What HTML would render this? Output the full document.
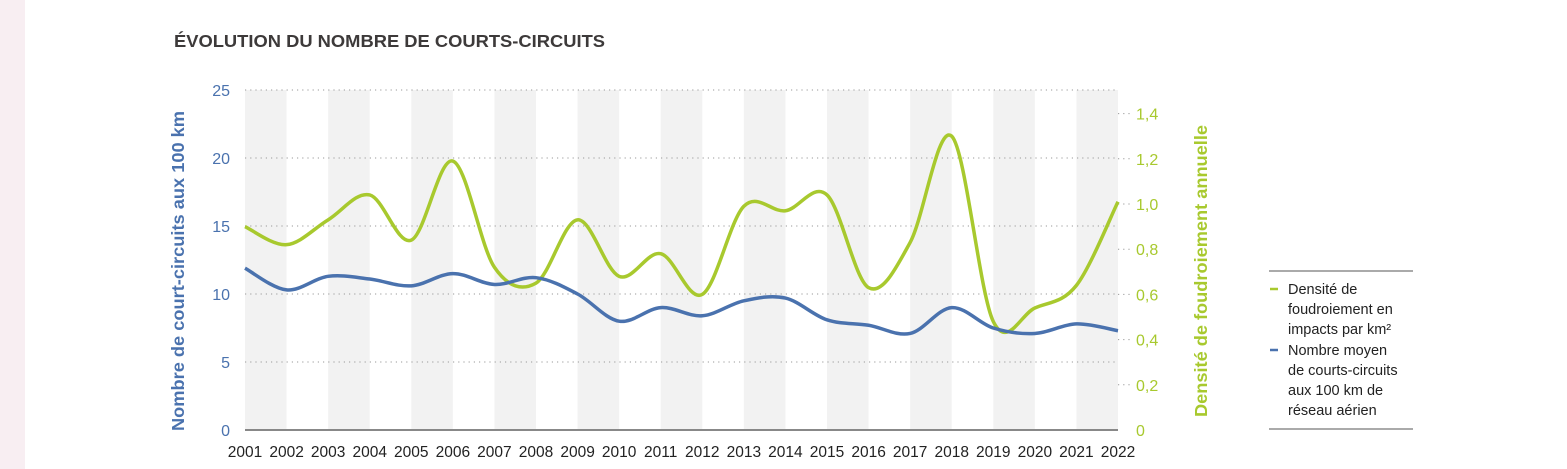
<!DOCTYPE html>
<html><head><meta charset="utf-8"><style>
body{margin:0;width:1567px;height:469px;background:#fff;overflow:hidden;font-family:"Liberation Sans",sans-serif;}
</style></head><body>
<svg width="1567" height="469" style="position:absolute;left:0;top:0">
<rect x="0" y="0" width="25" height="469" fill="#f8eef2"/>
<text x="174" y="47" font-size="17.5" font-weight="bold" fill="#3d3a3a" textLength="431" lengthAdjust="spacingAndGlyphs">ÉVOLUTION DU NOMBRE DE COURTS-CIRCUITS</text>
<g id="bands"></g><g id="grid"></g><g id="axes"></g><g id="lines"></g>
<text transform="translate(184,271) rotate(-90)" text-anchor="middle" font-size="17.5" font-weight="bold" fill="#4a72ae" textLength="320" lengthAdjust="spacingAndGlyphs">Nombre de court-circuits aux 100 km</text>
<text transform="translate(1207,271) rotate(-90)" text-anchor="middle" font-size="17.5" font-weight="bold" fill="#a8c92e" textLength="292" lengthAdjust="spacingAndGlyphs">Densité de foudroiement annuelle</text>
<g font-size="14.5" fill="#222">
<line x1="1269" y1="271" x2="1413" y2="271" stroke="#555" stroke-width="1"/>
<line x1="1269" y1="429" x2="1413" y2="429" stroke="#555" stroke-width="1"/>
<line x1="1270" y1="289" x2="1278" y2="289" stroke="#a8c92e" stroke-width="2.5"/>
<text x="1288" y="294"><tspan x="1288">Densité de</tspan><tspan x="1288" dy="20">foudroiement en</tspan><tspan x="1288" dy="20">impacts par km²</tspan></text>
<line x1="1270" y1="350" x2="1278" y2="350" stroke="#4a72ae" stroke-width="2.5"/>
<text x="1288" y="355"><tspan x="1288">Nombre moyen</tspan><tspan x="1288" dy="20">de courts-circuits</tspan><tspan x="1288" dy="20">aux 100 km de</tspan><tspan x="1288" dy="20">réseau aérien</tspan></text>
</g>
</svg>
<script>
const years=[2001,2002,2003,2004,2005,2006,2007,2008,2009,2010,2011,2012,2013,2014,2015,2016,2017,2018,2019,2020,2021,2022];
const density=[0.90,0.82,0.93,1.04,0.84,1.19,0.72,0.65,0.93,0.68,0.78,0.60,0.99,0.97,1.04,0.63,0.83,1.30,0.48,0.54,0.64,1.01];
const shortCircuits=[11.9,10.3,11.3,11.1,10.6,11.5,10.7,11.2,10.0,8.0,9.0,8.4,9.5,9.7,8.1,7.7,7.1,9.0,7.5,7.1,7.8,7.3];
const leftTicks=[0,5,10,15,20,25];
const rightTicks=[0,0.2,0.4,0.6,0.8,1.0,1.2,1.4];
const NS="http://www.w3.org/2000/svg";
const x0=245,x1=1118,yB=430;
const X=i=>x0+(x1-x0)*i/(years.length-1);
const YL=v=>yB-v*13.6;
const YR=v=>yB-v*226;
function mk(t,a,p){const e=document.createElementNS(NS,t);for(const k in a)e.setAttribute(k,a[k]);document.getElementById(p).appendChild(e);return e;}
for(let i=0;i<years.length-1;i+=2){
 const r=mk('rect',{x:X(i),y:90,width:X(i+1)-X(i),height:yB-90,fill:'#f2f2f2'},'bands');
 
 
}
leftTicks.forEach(v=>{
 if(v>0){const l=mk('line',{x1:x0,x2:x1,y1:YL(v),y2:YL(v),stroke:'#999','stroke-dasharray':'1.2,4'},'grid');
 
 }
 const t=mk('text',{x:230,y:YL(v)+6,'text-anchor':'end','font-size':16,fill:'#4a72ae'},'axes');t.textContent=v;
 
 
});
rightTicks.forEach(v=>{
 const t=mk('text',{x:1136,y:YR(v)+6,'font-size':16,fill:'#a8c92e'},'axes');t.textContent=v===0?'0':v.toFixed(1).replace('.',',');
 
 
 if(v>0){const l=mk('line',{x1:x1,x2:x1+12,y1:YR(v),y2:YR(v),stroke:'#999','stroke-dasharray':'1.2,4'},'grid');
 
 }
});
const ax=mk('line',{x1:x0,x2:x1,y1:yB,y2:yB,stroke:'#888','stroke-width':2},'axes');


years.forEach((y,i)=>{
 const t=mk('text',{x:X(i),y:457,'text-anchor':'middle','font-size':15.5,fill:'#222'},'axes');t.textContent=y;
 
 
});
function path(pts){let d='M'+pts[0][0]+','+pts[0][1];
 for(let i=0;i<pts.length-1;i++){const p0=pts[i-1]||pts[i],p1=pts[i],p2=pts[i+1],p3=pts[i+2]||p2;
 const c1=[p1[0]+(p2[0]-p0[0])/6,p1[1]+(p2[1]-p0[1])/6],c2=[p2[0]-(p3[0]-p1[0])/6,p2[1]-(p3[1]-p1[1])/6];
 d+=' C'+c1+' '+c2+' '+p2;}return d;}
const g=mk('path',{d:path(density.map((v,i)=>[X(i),YR(v)])),fill:'none',stroke:'#a8c92e','stroke-width':3.5},'lines');


const b=mk('path',{d:path(shortCircuits.map((v,i)=>[X(i),YL(v)])),fill:'none',stroke:'#4a72ae','stroke-width':3.5},'lines');


</script>
</body></html>
